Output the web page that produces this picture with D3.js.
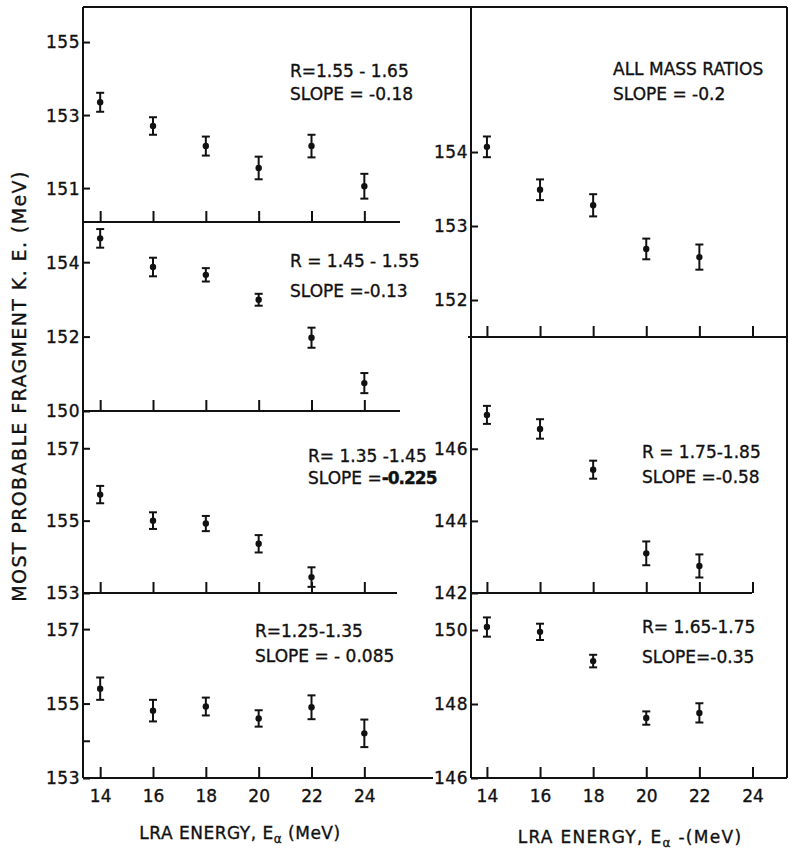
<!DOCTYPE html>
<html>
<head>
<meta charset="utf-8">
<script src="https://cdn.jsdelivr.net/npm/d3@7"></script>
<style>
  body { margin: 0; background: #fff; }
  svg { display: block; }
  text { font-family: "DejaVu Sans", sans-serif; fill: #111; stroke: #111; stroke-width: 0.35px; }
</style>
</head>
<body>
<svg width="790" height="851"></svg>
<script>
const width = 790, height = 851;

// alpha energies (MeV)
const energies = [14, 16, 18, 20, 22, 24];

// most probable fragment KE (MeV) and errors
const ke155 = [153.35, 152.7, 152.15, 151.55, 152.15, 151.05];
const err155 = [0.26, 0.24, 0.26, 0.31, 0.31, 0.34];
const ke145 = [154.64, 153.87, 153.66, 152.99, 151.97, 150.75];
const err145 = [0.25, 0.25, 0.18, 0.16, 0.27, 0.27];
const ke135 = [155.72, 155.0, 154.92, 154.36, 153.44];
const err135 = [0.24, 0.23, 0.21, 0.24, 0.27];
const ke125 = [155.4, 154.81, 154.92, 154.6, 154.9, 154.2];
const err125 = [0.3, 0.29, 0.24, 0.22, 0.32, 0.37];
const keAll = [154.07, 153.49, 153.28, 152.69, 152.58];
const errAll = [0.14, 0.14, 0.15, 0.14, 0.17];
const ke175 = [146.94, 146.55, 145.42, 143.1, 142.75];
const err175 = [0.25, 0.27, 0.25, 0.33, 0.32];
const ke165 = [150.08, 149.95, 149.16, 147.62, 147.76];
const err165 = [0.26, 0.22, 0.17, 0.18, 0.26];

// y tick labels
const ticks155 = [151, 153, 155];
const ticks145 = [150, 152, 154];
const ticks135 = [153, 155, 157];
const ticks125 = [153, 155, 157];
const ticksAll = [152, 153, 154];
const ticks175 = [142, 144, 146];
const ticks165 = [146, 148, 150];

const svg = d3.select("svg");

const xLeft = d3.scaleLinear().domain([13.35, 25.35]).range([83, 400]);
const xRight = d3.scaleLinear().domain([13.4, 25.3]).range([471, 787]);

// panel layout
const panels = [
    { x: xLeft, top: 7, bottom: 222, domain: [150.07, 155.96], ke: ke155, err: err155, ticks: ticks155,
      lineEnd: 400, text: ["R=1.55 - 1.65", "SLOPE = -0.18"], tx: 290, ty: [77, 100] },
    { x: xLeft, top: 222, bottom: 411, domain: [150, 155.08], ke: ke145, err: err145, ticks: ticks145,
      lineEnd: 400, text: ["R = 1.45 - 1.55", "SLOPE =-0.13"], tx: 290, ty: [267, 297] },
    { x: xLeft, top: 411, bottom: 593, domain: [153, 158.03], ke: ke135, err: err135, ticks: ticks135,
      lineEnd: 397, text: ["R= 1.35 -1.45", "SLOPE ="], bold: "-0.225", tx: 308, ty: [462, 484] },
    { x: xLeft, top: 593, bottom: 778, domain: [153, 157.97], ke: ke125, err: err125, ticks: ticks125, minor: [154],
      lineEnd: 433, labels: true, text: ["R=1.25-1.35", "SLOPE = - 0.085"], tx: 255, ty: [637, 662] },
    { x: xRight, top: 7, bottom: 337, domain: [151.5, 155.96], ke: keAll, err: errAll, ticks: ticksAll,
      lineStart: 468, lineEnd: 787, text: ["ALL MASS RATIOS", "SLOPE = -0.2"], tx: 613, ty: [75, 100] },
    { x: xRight, top: 337, bottom: 593, domain: [142, 149.1], ke: ke175, err: err175, ticks: ticks175,
      lineEnd: 752, text: ["R = 1.75-1.85", "SLOPE =-0.58"], tx: 642, ty: [458, 483] },
    { x: xRight, top: 593, bottom: 778, domain: [146, 151.0], ke: ke165, err: err165, ticks: ticks165,
      lineEnd: 787, labels: true, dash: true, text: ["R= 1.65-1.75", "SLOPE=-0.35"], tx: 642, ty: [633, 663] }
];

const line = (x1, y1, x2, y2, w) => svg.append("line")
    .attr("x1", x1).attr("y1", y1).attr("x2", x2).attr("y2", y2)
    .attr("stroke", "#111").attr("stroke-width", w || 2);

// frame
line(83, 7, 787, 7);
line(83, 7, 83, 778);
line(471, 7, 471, 778);
line(787, 7, 787, 778);

panels.forEach(p => {
    const y = d3.scaleLinear().domain(p.domain).range([p.bottom, p.top]);
    const x0 = p.x.range()[0];
    const g = svg.append("g");

    // bottom axis line
    line(p.lineStart || x0, p.bottom, p.lineEnd, p.bottom);

    // y axis ticks pointing inward
    const yAxis = d3.axisLeft(y).tickValues(p.ticks.concat(p.minor || []))
        .tickSize(-7).tickPadding(3)
        .tickFormat(d => p.ticks.includes(d) ? d : "");
    const ya = g.append("g").attr("transform", `translate(${x0},0)`).call(yAxis);
    ya.select(".domain").remove();
    ya.selectAll(".tick line").attr("stroke", "#111").attr("stroke-width", 2);
    ya.selectAll(".tick text").style("font-size", "17px").style("letter-spacing", "0.5px")
        .attr("fill", "#111").attr("dy", "0.35em");

    // x axis ticks pointing up
    const xAxis = d3.axisBottom(p.x).tickValues(energies).tickSize(-11).tickPadding(12)
        .tickFormat(d => p.labels ? d : "");
    const xa = g.append("g").attr("transform", `translate(0,${p.bottom})`).call(xAxis);
    xa.select(".domain").remove();
    xa.selectAll(".tick line").attr("stroke", "#111").attr("stroke-width", 2);
    xa.selectAll(".tick text").style("font-size", "17px").attr("fill", "#111");

    if (p.dash) line(x0 - 66, p.bottom, x0 - 40, p.bottom);

    // error bars
    const pts = p.ke.map((v, i) => ({ e: energies[i], v: v, err: p.err[i] }));
    const eb = g.selectAll(".eb").data(pts).enter().append("g");
    eb.append("line")
        .attr("x1", d => p.x(d.e)).attr("x2", d => p.x(d.e))
        .attr("y1", d => y(d.v - d.err)).attr("y2", d => y(d.v + d.err))
        .attr("stroke", "#111").attr("stroke-width", 2);
    [-1, 1].forEach(s => eb.append("line")
        .attr("x1", d => p.x(d.e) - 4).attr("x2", d => p.x(d.e) + 4)
        .attr("y1", d => y(d.v + s * d.err)).attr("y2", d => y(d.v + s * d.err))
        .attr("stroke", "#111").attr("stroke-width", 2));
    eb.append("circle")
        .attr("cx", d => p.x(d.e)).attr("cy", d => y(d.v)).attr("r", 3.2)
        .attr("fill", "#111");

    // annotation
    g.append("text").attr("x", p.tx).attr("y", p.ty[0]).style("font-size", "17px").text(p.text[0]);
    const t2 = g.append("text").attr("x", p.tx).attr("y", p.ty[1]).style("font-size", "17px").text(p.text[1]);
    if (p.bold) t2.append("tspan").style("font-weight", "bold").style("letter-spacing", "-1px").text(p.bold);
});

// axis titles
const xTitle = (cx, cy, tail, spacing) => {
    const t = svg.append("text").attr("x", cx).attr("y", cy).attr("text-anchor", "middle")
        .style("font-size", "17px").style("letter-spacing", spacing);
    t.append("tspan").text("LRA  ENERGY, E");
    t.append("tspan").attr("dy", 4).style("font-size", "12px").text("α");
    t.append("tspan").attr("dy", -4).text(tail);
};
xTitle(240, 839, " (MeV)", "0.5px");
xTitle(630, 843, " -(MeV)", "1.3px");

svg.append("text")
    .attr("transform", "translate(26,386) rotate(-90)")
    .attr("text-anchor", "middle")
    .style("font-size", "19px").style("letter-spacing", "1.4px")
    .text("MOST PROBABLE FRAGMENT K. E. (MeV)");
</script>
</body>
</html>
